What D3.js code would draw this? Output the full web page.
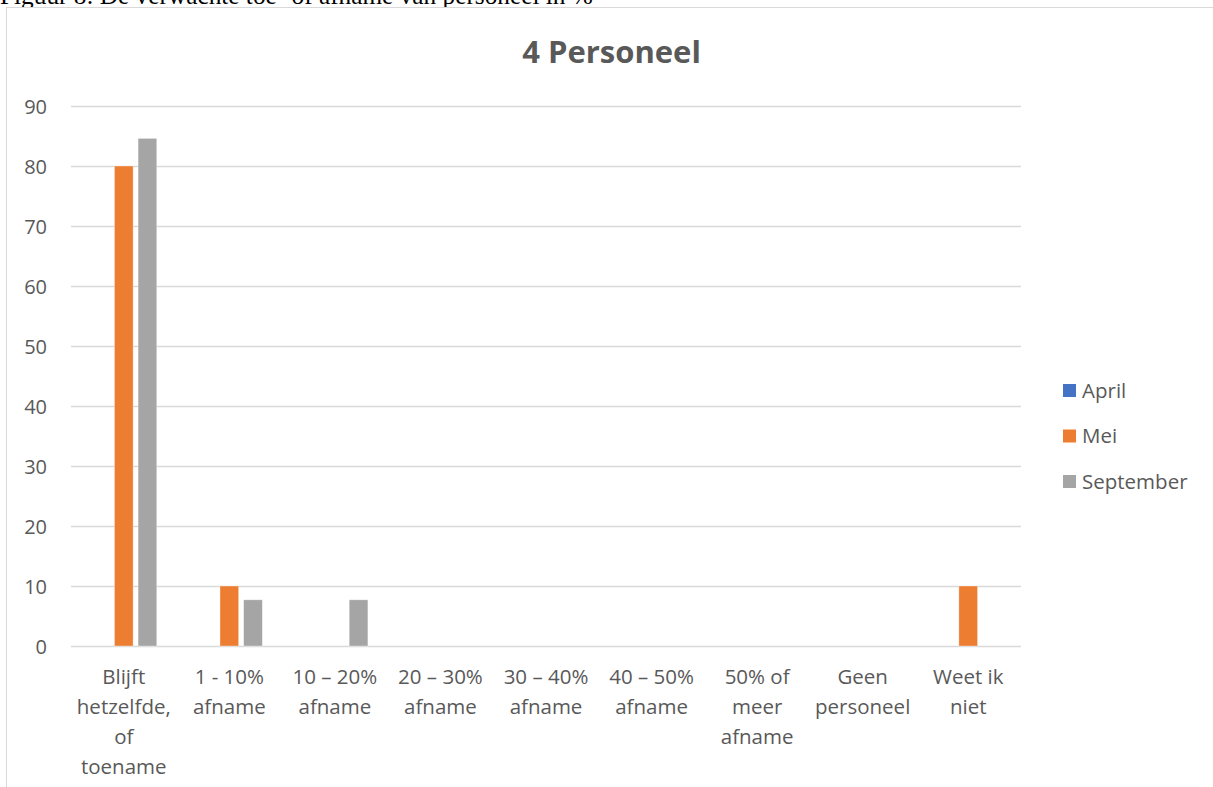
<!DOCTYPE html>
<html><head><meta charset="utf-8">
<script src="https://cdn.jsdelivr.net/npm/d3@7"></script>
<style>body{margin:0;background:#fff;} svg{display:block;}</style>
</head><body>
<script>
const categories = [["Blijft","hetzelfde,","of","toename"],["1 - 10%","afname"],["10 – 20%","afname"],["20 – 30%","afname"],["30 – 40%","afname"],["40 – 50%","afname"],["50% of","meer","afname"],["Geen","personeel"],["Weet ik","niet"]];
const seriesNames = ["April","Mei","September"];
const april = [0,0,0,0,0,0,0,0,0];
const mei = [80,10,0,0,0,0,0,0,10];
const september = [84.6,7.7,7.7,0,0,0,0,0,0];
const colors = ["#4472C4","#ED7D31","#A5A5A5"];
const yTicks = [0,10,20,30,40,50,60,70,80,90];
const title = "4 Personeel";
const caption = "Figuur 8: De verwachte toe- of afname van personeel in %";

const W=1213,H=787;
const FONT="Open Sans, Liberation Sans";
const svg=d3.select("body").append("svg").attr("width",W).attr("height",H);
svg.append("text").attr("x",0).attr("y",4).attr("font-family","Liberation Serif").attr("font-size",25.3).attr("fill","#000").text(caption);
svg.append("rect").attr("x",6.5).attr("y",7.5).attr("width",1230).attr("height",800).attr("fill","#fff").attr("stroke","#d9d9d9");

const x0=71,x1=1021,yb=646,yt=106;
const x=d3.scaleBand().domain(d3.range(categories.length)).range([x0,x1]);
const y=d3.scaleLinear().domain([0,90]).range([yb,yt]);
const inner=d3.scaleBand().domain(seriesNames).range([0,66]).paddingInner(0.21);

const g=svg.append("g");
g.selectAll("line.grid").data(yTicks).enter().append("line")
 .attr("x1",x0).attr("x2",x1).attr("y1",d=>y(d)+0.5).attr("y2",d=>y(d)+0.5)
 .attr("stroke","#d9d9d9").attr("stroke-width",1.3);
g.selectAll("text.yt").data(yTicks).enter().append("text")
 .attr("x",47).attr("y",d=>y(d)+7.5).attr("text-anchor","end")
 .attr("font-family",FONT).attr("font-size",20).attr("fill","#595959").text(d=>d);

const data=[april,mei,september];
seriesNames.forEach((s,si)=>{
  g.selectAll("rect.s"+si).data(data[si]).enter().append("rect")
   .attr("x",(d,i)=>x(i)+x.bandwidth()/2-33+inner(s))
   .attr("width",inner.bandwidth())
   .attr("y",d=>y(d)).attr("height",d=>yb-y(d))
   .attr("fill",colors[si]).attr("stroke","#fff").attr("stroke-opacity",0.5).attr("stroke-width",0.7);
});

categories.forEach((lines,i)=>{
  const t=g.append("text").attr("text-anchor","middle").attr("font-family",FONT).attr("font-size",20.5).attr("fill","#595959");
  lines.forEach((l,j)=>t.append("tspan").attr("x",x(i)+x.bandwidth()/2).attr("y",684+j*30).text(l));
});

svg.append("text").attr("x",611.5).attr("y",63).attr("text-anchor","middle").attr("font-family",FONT).attr("font-weight","bold").attr("font-size",31).attr("fill","#595959").text(title);

const lg=svg.append("g");
seriesNames.forEach((s,i)=>{
  const yy=390+i*45.5;
  lg.append("rect").attr("x",1063).attr("y",yy-6).attr("width",13).attr("height",13).attr("fill",colors[i]);
  lg.append("text").attr("x",1082).attr("y",yy+7.5).attr("font-family",FONT).attr("font-size",20.5).attr("fill","#595959").text(s);
});
</script>
</body></html>
